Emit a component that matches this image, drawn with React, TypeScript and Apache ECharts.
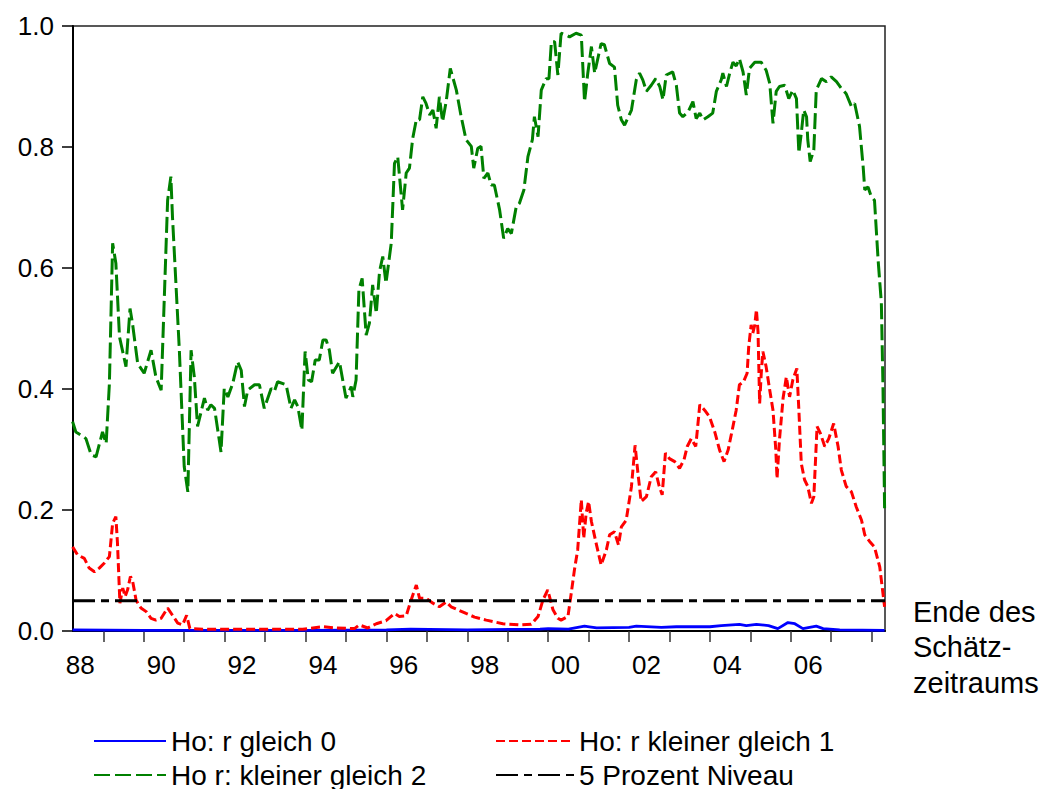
import React, { useEffect, useRef } from "react";
import * as echarts from "echarts";

// x axis: decimal years (monthly sample 1988M4 .. 2008M4)
const xMin = 1988.25;
const xMax = 2008.33;
const xTickYears = [1989, 1990, 1991, 1992, 1993, 1994, 1995, 1996, 1997, 1998, 1999, 2000, 2001, 2002, 2003, 2004, 2005, 2006, 2007, 2008];
const xLabelPositions = [1988.43, 1990.43, 1992.43, 1994.43, 1996.43, 1998.43, 2000.43, 2002.43, 2004.43, 2006.43];
const yMin = 0;
const yMax = 1;
const yInterval = 0.2;

const seriesNames = ["Ho: r gleich 0", "Ho: r kleiner gleich 1", "Ho r: kleiner gleich 2", "5 Prozent Niveau"];

const blueSeries = [
  [1988.24, 0.002], [1990.0, 0.001], [1992.0, 0.001], [1994.0, 0.001], [1996.0, 0.002], [1996.6, 0.003],
  [1998.0, 0.002], [1999.8, 0.003], [2000.0, 0.004], [2000.5, 0.003], [2000.9, 0.008], [2001.02, 0.007],
  [2001.2, 0.005], [2002.0, 0.006], [2002.18, 0.008], [2002.8, 0.006], [2003.17, 0.007], [2004.0, 0.007],
  [2004.28, 0.009], [2004.73, 0.011], [2004.9, 0.009], [2005.15, 0.011], [2005.45, 0.009], [2005.68, 0.004],
  [2005.93, 0.014], [2006.1, 0.012], [2006.3, 0.004], [2006.63, 0.008], [2006.8, 0.004], [2007.21, 0.002],
  [2008.32, 0.001],
];

const redSeries = [
  [1988.24, 0.139], [1988.36, 0.126], [1988.53, 0.120], [1988.65, 0.104], [1988.78, 0.098], [1988.90, 0.104],
  [1989.02, 0.112], [1989.15, 0.123], [1989.23, 0.178], [1989.31, 0.189], [1989.35, 0.145], [1989.41, 0.046],
  [1989.48, 0.071], [1989.54, 0.057], [1989.60, 0.068], [1989.67, 0.090], [1989.72, 0.084], [1989.81, 0.051],
  [1989.93, 0.038], [1990.06, 0.032], [1990.18, 0.021], [1990.30, 0.018], [1990.43, 0.021], [1990.59, 0.038],
  [1990.71, 0.026], [1990.84, 0.013], [1990.96, 0.010], [1991.06, 0.026], [1991.14, 0.004], [1991.46, 0.003],
  [1992.28, 0.003], [1993.11, 0.003], [1993.93, 0.003], [1994.43, 0.007], [1994.76, 0.005], [1995.21, 0.004],
  [1995.33, 0.010], [1995.54, 0.005], [1995.75, 0.012], [1995.99, 0.017], [1996.20, 0.029], [1996.32, 0.024],
  [1996.49, 0.025], [1996.61, 0.051], [1996.74, 0.076], [1996.82, 0.054], [1996.98, 0.054], [1997.15, 0.046],
  [1997.31, 0.040], [1997.48, 0.048], [1997.60, 0.040], [1997.77, 0.035], [1997.97, 0.029], [1998.18, 0.023],
  [1998.47, 0.018], [1998.88, 0.012], [1999.29, 0.010], [1999.58, 0.011], [1999.75, 0.024], [1999.87, 0.051],
  [1999.99, 0.068], [2000.12, 0.035], [2000.24, 0.021], [2000.32, 0.018], [2000.49, 0.024], [2000.57, 0.062],
  [2000.65, 0.101], [2000.73, 0.134], [2000.82, 0.217], [2000.88, 0.153], [2000.94, 0.195], [2001.00, 0.214],
  [2001.07, 0.181], [2001.17, 0.150], [2001.31, 0.109], [2001.44, 0.134], [2001.52, 0.159], [2001.64, 0.164],
  [2001.74, 0.142], [2001.81, 0.172], [2001.93, 0.183], [2002.06, 0.239], [2002.15, 0.307], [2002.22, 0.261],
  [2002.30, 0.214], [2002.43, 0.222], [2002.55, 0.255], [2002.66, 0.263], [2002.74, 0.241], [2002.82, 0.225],
  [2002.90, 0.294], [2003.00, 0.285], [2003.13, 0.280], [2003.25, 0.269], [2003.36, 0.283], [2003.44, 0.305],
  [2003.54, 0.318], [2003.65, 0.305], [2003.75, 0.374], [2003.87, 0.365], [2003.99, 0.354], [2004.12, 0.329],
  [2004.24, 0.299], [2004.35, 0.280], [2004.45, 0.299], [2004.57, 0.338], [2004.65, 0.365], [2004.73, 0.407],
  [2004.83, 0.412], [2004.92, 0.426], [2004.96, 0.470], [2005.02, 0.506], [2005.06, 0.492], [2005.11, 0.506],
  [2005.15, 0.531], [2005.19, 0.495], [2005.23, 0.376], [2005.27, 0.426], [2005.31, 0.462], [2005.39, 0.437],
  [2005.48, 0.398], [2005.56, 0.365], [2005.63, 0.299], [2005.66, 0.252], [2005.72, 0.316], [2005.81, 0.385],
  [2005.89, 0.420], [2005.97, 0.387], [2006.05, 0.415], [2006.15, 0.434], [2006.20, 0.365], [2006.26, 0.277],
  [2006.34, 0.250], [2006.42, 0.239], [2006.51, 0.211], [2006.57, 0.222], [2006.65, 0.338], [2006.73, 0.327],
  [2006.84, 0.305], [2006.94, 0.318], [2007.06, 0.343], [2007.17, 0.305], [2007.25, 0.266], [2007.37, 0.239],
  [2007.50, 0.230], [2007.62, 0.205], [2007.75, 0.183], [2007.83, 0.159], [2007.95, 0.148], [2008.07, 0.139],
  [2008.20, 0.106], [2008.28, 0.062], [2008.32, 0.040],
];

const greenSeries = [
  [1988.24, 0.346], [1988.32, 0.329], [1988.49, 0.322], [1988.57, 0.318], [1988.70, 0.291], [1988.82, 0.288],
  [1988.98, 0.329], [1989.07, 0.310], [1989.15, 0.409], [1989.23, 0.641], [1989.31, 0.608], [1989.40, 0.486],
  [1989.56, 0.437], [1989.66, 0.533], [1989.72, 0.509], [1989.85, 0.442], [1990.01, 0.426], [1990.18, 0.464],
  [1990.30, 0.420], [1990.43, 0.398], [1990.59, 0.712], [1990.67, 0.751], [1990.71, 0.685], [1990.88, 0.464],
  [1991.00, 0.272], [1991.09, 0.230], [1991.17, 0.464], [1991.25, 0.420], [1991.33, 0.338], [1991.50, 0.385],
  [1991.58, 0.365], [1991.66, 0.374], [1991.75, 0.368], [1991.91, 0.296], [1991.99, 0.401], [1992.08, 0.387],
  [1992.20, 0.409], [1992.32, 0.445], [1992.41, 0.431], [1992.49, 0.371], [1992.57, 0.398], [1992.74, 0.407],
  [1992.86, 0.407], [1992.98, 0.368], [1993.15, 0.401], [1993.23, 0.396], [1993.31, 0.412], [1993.52, 0.407],
  [1993.64, 0.368], [1993.73, 0.382], [1993.81, 0.371], [1993.91, 0.332], [1993.99, 0.462], [1994.07, 0.415],
  [1994.15, 0.412], [1994.24, 0.448], [1994.34, 0.448], [1994.43, 0.481], [1994.51, 0.481], [1994.59, 0.464],
  [1994.67, 0.426], [1994.84, 0.445], [1995.00, 0.385], [1995.13, 0.404], [1995.17, 0.387], [1995.25, 0.415],
  [1995.32, 0.564], [1995.40, 0.583], [1995.50, 0.489], [1995.58, 0.509], [1995.66, 0.572], [1995.75, 0.525],
  [1995.83, 0.594], [1995.91, 0.619], [1995.99, 0.575], [1996.12, 0.641], [1996.20, 0.773], [1996.28, 0.784],
  [1996.40, 0.696], [1996.49, 0.757], [1996.57, 0.765], [1996.65, 0.814], [1996.74, 0.845], [1996.82, 0.845],
  [1996.90, 0.883], [1996.98, 0.872], [1997.07, 0.853], [1997.15, 0.861], [1997.23, 0.831], [1997.31, 0.883],
  [1997.39, 0.842], [1997.48, 0.876], [1997.58, 0.930], [1997.73, 0.894], [1997.85, 0.850], [1997.97, 0.812],
  [1998.10, 0.801], [1998.16, 0.765], [1998.26, 0.798], [1998.34, 0.801], [1998.41, 0.748], [1998.51, 0.757],
  [1998.59, 0.737], [1998.67, 0.737], [1998.80, 0.696], [1998.90, 0.649], [1999.00, 0.665], [1999.09, 0.657],
  [1999.21, 0.701], [1999.29, 0.707], [1999.40, 0.729], [1999.50, 0.784], [1999.61, 0.812], [1999.66, 0.850],
  [1999.75, 0.817], [1999.83, 0.894], [1999.95, 0.913], [2000.02, 0.913], [2000.08, 0.974], [2000.16, 0.974],
  [2000.24, 0.919], [2000.32, 0.988], [2000.45, 0.985], [2000.53, 0.982], [2000.69, 0.988], [2000.82, 0.985],
  [2000.90, 0.875], [2000.98, 0.922], [2001.07, 0.966], [2001.15, 0.922], [2001.31, 0.971], [2001.39, 0.969],
  [2001.52, 0.938], [2001.64, 0.932], [2001.72, 0.869], [2001.81, 0.845], [2001.89, 0.836], [2002.06, 0.861],
  [2002.18, 0.911], [2002.26, 0.922], [2002.34, 0.911], [2002.43, 0.892], [2002.55, 0.902], [2002.66, 0.913],
  [2002.76, 0.900], [2002.84, 0.878], [2002.92, 0.919], [2003.08, 0.924], [2003.17, 0.902], [2003.25, 0.856],
  [2003.33, 0.850], [2003.46, 0.858], [2003.58, 0.875], [2003.66, 0.847], [2003.75, 0.856], [2003.83, 0.845],
  [2003.95, 0.850], [2004.07, 0.856], [2004.16, 0.892], [2004.28, 0.911], [2004.32, 0.922], [2004.41, 0.900],
  [2004.49, 0.922], [2004.57, 0.940], [2004.65, 0.934], [2004.73, 0.946], [2004.82, 0.924], [2004.90, 0.886],
  [2004.98, 0.930], [2005.11, 0.940], [2005.27, 0.940], [2005.39, 0.927], [2005.48, 0.905], [2005.56, 0.839],
  [2005.64, 0.892], [2005.72, 0.900], [2005.85, 0.902], [2005.95, 0.880], [2006.05, 0.894], [2006.14, 0.880],
  [2006.20, 0.790], [2006.26, 0.823], [2006.32, 0.861], [2006.39, 0.850], [2006.42, 0.812], [2006.48, 0.776],
  [2006.57, 0.795], [2006.63, 0.894], [2006.76, 0.913], [2006.88, 0.908], [2007.00, 0.916], [2007.13, 0.908],
  [2007.25, 0.897], [2007.37, 0.888], [2007.50, 0.867], [2007.58, 0.872], [2007.70, 0.834], [2007.79, 0.767],
  [2007.83, 0.729], [2007.91, 0.734], [2007.99, 0.718], [2008.07, 0.712], [2008.16, 0.613], [2008.24, 0.542],
  [2008.28, 0.404], [2008.32, 0.203],
];

const levelSeries = [
  [1988.25, 0.05], [2008.33, 0.05],
];

const FONT = "'Liberation Sans', Arial, sans-serif";

function legendFor(name: string, left: number, top: number, itemWidth: number) {
  return {
    data: [name],
    orient: "horizontal",
    left,
    top,
    padding: 0,
    itemWidth,
    itemHeight: 14,
    itemGap: 0,
    selectedMode: false,
    itemStyle: { opacity: 0 },
    textStyle: { fontFamily: FONT, fontSize: 28, color: "#000", lineHeight: 30 },
  };
}

export default function App() {
  const ref = useRef<HTMLDivElement>(null);

  useEffect(() => {
    const chart = echarts.init(ref.current as HTMLDivElement, null, { renderer: "svg" });
    chart.setOption({
      animation: false,
      backgroundColor: "#fff",
      grid: {
        left: 73,
        right: 154,
        top: 26,
        bottom: 158,
        show: true,
        borderColor: "#222",
        borderWidth: 1.5,
        outerBoundsMode: "none",
      },
      legend: [
        legendFor(seriesNames[0], 93, 726, 72),
        legendFor(seriesNames[1], 495, 726, 78),
        legendFor(seriesNames[2], 93, 760, 72),
        legendFor(seriesNames[3], 495, 760, 78),
      ],
      xAxis: {
        type: "value",
        min: xMin,
        max: xMax,
        splitLine: { show: false },
        axisLine: { show: true, onZero: false, lineStyle: { color: "#000", width: 2 } },
        axisTick: {
          show: true,
          length: 11,
          customValues: xTickYears,
          lineStyle: { color: "#333", width: 1.5 },
        },
        axisLabel: {
          customValues: xLabelPositions,
          margin: 21,
          fontFamily: FONT,
          fontSize: 26,
          color: "#000",
          formatter: (v: number) => String(Math.floor(v + 1e-6) % 100).padStart(2, "0"),
        },
      },
      yAxis: {
        type: "value",
        min: yMin,
        max: yMax,
        interval: yInterval,
        splitLine: { show: false },
        axisLine: { show: true, lineStyle: { color: "#000", width: 2 } },
        axisTick: { show: true, length: 11, lineStyle: { color: "#000", width: 1.5 } },
        axisLabel: {
          margin: 19,
          fontFamily: FONT,
          fontSize: 26,
          color: "#000",
          formatter: (v: number) => v.toFixed(1),
        },
      },
      graphic: [
        {
          type: "text",
          left: 913,
          top: 594,
          style: {
            text: "Ende des\nSchätz-\nzeitraums",
            fontFamily: FONT,
            fontSize: 29,
            lineHeight: 35.5,
            fill: "#000",
          },
        },
      ],
      series: [
        {
          name: seriesNames[0],
          type: "line",
          data: blueSeries,
          symbol: "none",
          lineStyle: { color: "#0000ff", width: 2.8, type: "solid" },
          itemStyle: { color: "#0000ff" },
          z: 2,
        },
        {
          name: seriesNames[1],
          type: "line",
          data: redSeries,
          symbol: "none",
          lineStyle: { color: "#ff0000", width: 3, type: [9, 4] },
          itemStyle: { color: "#ff0000" },
          z: 3,
        },
        {
          name: seriesNames[2],
          type: "line",
          data: greenSeries,
          symbol: "none",
          lineStyle: { color: "#008000", width: 3, type: [16, 5] },
          itemStyle: { color: "#008000" },
          z: 4,
        },
        {
          name: seriesNames[3],
          type: "line",
          data: levelSeries,
          symbol: "none",
          lineStyle: { color: "#000000", width: 3, type: [22, 6, 8, 6] },
          itemStyle: { color: "#000000" },
          z: 5,
        },
      ],
    });
    return () => chart.dispose();
  }, []);

  return (
    <div
      ref={ref}
      style={{ position: "absolute", left: 0, top: 0, width: 1039, height: 789, background: "#fff" }}
    />
  );
}
